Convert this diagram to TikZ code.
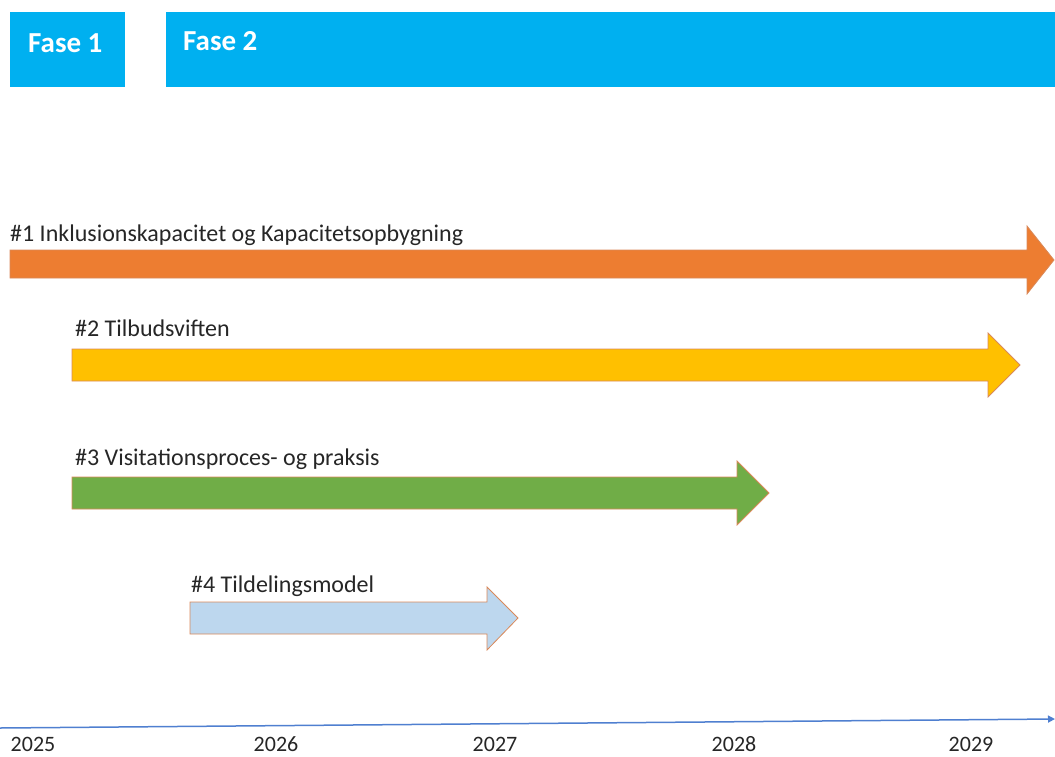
\documentclass[tikz,border=0pt]{standalone}
\usepackage{fontspec}
\setmainfont{Carlito}
\usetikzlibrary{arrows.meta}
\definecolor{fase}{HTML}{00B0F0}
\definecolor{aorange}{HTML}{ED7D31}
\definecolor{ayellow}{HTML}{FFC000}
\definecolor{agreen}{HTML}{70AD47}
\definecolor{ablue}{HTML}{BDD7EE}
\definecolor{aedge}{HTML}{D9895A}
\definecolor{axis}{HTML}{4F7FD0}
\definecolor{txt}{HTML}{262626}
\tikzset{
  x=1pt,y=-1pt,
  fasebox/.style={fill=fase,draw=none},
  fasetext/.style={text=white,font=\fontsize{29}{34}\selectfont\bfseries,anchor=base west,inner sep=0},
  arr/.style={draw=aedge,line width=0.8pt,line join=miter},
  lbl/.style={text=txt,font=\fontsize{24}{28}\selectfont,anchor=base west,inner sep=0},
  yr/.style={text=txt,font=\fontsize{22}{26}\selectfont,anchor=base,inner sep=0,text depth=0pt},
}
\begin{document}
\begin{tikzpicture}
\useasboundingbox (0,0) rectangle (1055,756);
% phases
\fill[fasebox] (10,12) rectangle (125,87);
\node[fasetext] (f1) at (28,52) {Fase 1};
\fill[fasebox] (166,12) rectangle (1055,87);
\node[fasetext] (f2) at (183,50) {Fase 2};
% arrows
\draw[arr,fill=aorange] (10,250) -- (1027,250) -- (1027,226) -- (1054,260) -- (1027,294) -- (1027,278) -- (10,278) -- cycle;
\node[lbl] (t1) at (10,241) {\#1 Inklusionskapacitet og Kapacitetsopbygning};
\draw[arr,fill=ayellow] (72,349) -- (988,349) -- (988,333) -- (1020,365) -- (988,397) -- (988,381) -- (72,381) -- cycle;
\node[lbl] (t2) at (75,336) {\#2 Tilbudsviften};
\draw[arr,fill=agreen] (72,477) -- (737,477) -- (737,461) -- (769,493) -- (737,525) -- (737,509) -- (72,509) -- cycle;
\node[lbl] (t3) at (75,465) {\#3 Visitationsproces- og praksis};
\draw[arr,fill=ablue] (190,602) -- (487,602) -- (487,587) -- (518,618) -- (487,650) -- (487,634) -- (190,634) -- cycle;
\node[lbl] (t4) at (191,592) {\#4 Tildelingsmodel};
% axis
\coordinate (a0) at (0,728);
\coordinate (a1) at (1055,719);
\draw[axis,line width=1.5pt,-{Triangle[length=7pt,width=7pt]}] (a0) -- (a1);
\node[yr] (y25) at (33,751) {2025};
\node[yr] (y26) at (276,751) {2026};
\node[yr] (y27) at (495,751) {2027};
\node[yr] (y28) at (734,751) {2028};
\node[yr] (y29) at (971,751) {2029};
\end{tikzpicture}
\end{document}
